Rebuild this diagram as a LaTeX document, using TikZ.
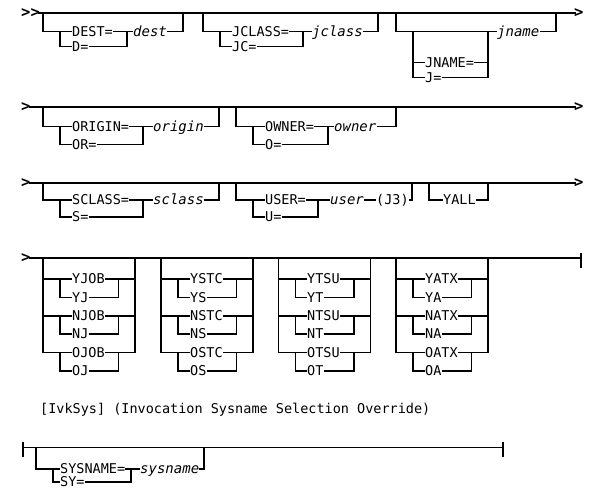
\documentclass[tikz,border=0pt]{standalone}
\usepackage{fontspec}
\usepackage{tikz}
\newfontfamily\railfont{DejaVu Sans Mono}

\begin{document}
\begin{tikzpicture}[x=1pt, y=-1pt,
    rail/.style={line width=1.3pt},
    kw/.style={font={\railfont\fontsize{13.5pt}{16pt}\selectfont}, inner sep=0pt, anchor=west, text height=9.5pt, text depth=0pt},
    var/.style={kw, font={\railfont\itshape\fontsize{14pt}{16pt}\selectfont}},
    tip/.style={kw, font={\railfont\bfseries\fontsize{15.5pt}{16pt}\selectfont}}]
    \useasboundingbox (0,0) rectangle (602,490);

    % first line: DEST, JCLASS, JNAME
    \node [tip] (start1) at (21,13) {>>};
    \node [tip] (end1) at (574,13) {>};
    \draw [rail] ([xshift=-2pt]start1.east) -- ([xshift=2pt]end1.west);
    \coordinate (dest in) at (43,13);
    \coordinate (dest l) at (60,13);
    \coordinate (dest r) at (127,13);
    \coordinate (dest out) at (183,13);
    \node [kw] (dest kw) at (72,31.5) {DEST=};
    \node [kw] (d kw) at (72,46.5) {D=};
    \node [var] (dest var) at (133,31.5) {dest};
    \draw [rail] (dest in) |- (dest kw.west) (dest l |- dest kw.west) |- (d kw.west)
        (dest kw.east) -- (dest var.west) (dest var.east) -| (dest out)
        (d kw.east) -| (dest r |- dest kw.west);
    \coordinate (jclass in) at (203,13);
    \coordinate (jclass l) at (220,13);
    \coordinate (jclass r) at (303,13);
    \coordinate (jclass out) at (378,13);
    \node [kw] (jclass kw) at (232,31.5) {JCLASS=};
    \node [kw] (jc kw) at (232,46.5) {JC=};
    \node [var] (jclass var) at (312,31.5) {jclass};
    \draw [rail] (jclass in) |- (jclass kw.west) (jclass l |- jclass kw.west) |- (jc kw.west)
        (jclass kw.east) -- (jclass var.west) (jclass var.east) -| (jclass out)
        (jc kw.east) -| (jclass r |- jclass kw.west);
    \coordinate (jname in) at (396,13);
    \coordinate (jname l) at (413,13);
    \coordinate (jname r) at (488,13);
    \coordinate (jname out) at (556,13);
    \node [kw] (jname kw) at (425,62.5) {JNAME=};
    \node [kw] (j kw) at (425,77.5) {J=};
    \node [var] (jname var) at (497,31.5) {jname};
    \draw [rail] (jname in) |- (jname var.west) (jname var.east) -| (jname out)
        (jname l |- jname var.west) |- (j kw.west) (jname l |- jname kw.west) -- (jname kw.west)
        (jname kw.east) -- (jname r |- jname kw.west) (j kw.east) -| (jname r |- jname var.west);

    % second line: ORIGIN, OWNER
    \node [tip] (start2) at (21,107) {>};
    \node [tip] (end2) at (574,107) {>};
    \draw [rail] ([xshift=-2pt]start2.east) -- ([xshift=2pt]end2.west);
    \coordinate (origin in) at (43,107);
    \coordinate (origin l) at (60,107);
    \coordinate (origin r) at (143,107);
    \coordinate (origin out) at (219,107);
    \node [kw] (origin kw) at (72,126.5) {ORIGIN=};
    \node [kw] (or kw) at (72,144.5) {OR=};
    \node [var] (origin var) at (153,126.5) {origin};
    \draw [rail] (origin in) |- (origin kw.west) (origin l |- origin kw.west) |- (or kw.west)
        (origin kw.east) -- (origin var.west) (origin var.east) -| (origin out)
        (or kw.east) -| (origin r |- origin kw.west);
    \coordinate (owner in) at (236,107);
    \coordinate (owner l) at (253,107);
    \coordinate (owner r) at (328,107);
    \coordinate (owner out) at (396,107);
    \node [kw] (owner kw) at (265,126.5) {OWNER=};
    \node [kw] (o kw) at (265,144.5) {O=};
    \node [var] (owner var) at (334,126.5) {owner};
    \draw [rail] (owner in) |- (owner kw.west) (owner l |- owner kw.west) |- (o kw.west)
        (owner kw.east) -- (owner var.west) (owner var.east) -| (owner out)
        (o kw.east) -| (owner r |- owner kw.west);

    % third line: SCLASS, USER, YALL
    \node [tip] (start3) at (21,183) {>};
    \node [tip] (end3) at (574,183) {>};
    \draw [rail] ([xshift=-2pt]start3.east) -- ([xshift=2pt]end3.west);
    \coordinate (sclass in) at (43,183);
    \coordinate (sclass l) at (60,183);
    \coordinate (sclass r) at (143,183);
    \coordinate (sclass out) at (219,183);
    \node [kw] (sclass kw) at (72,200) {SCLASS=};
    \node [kw] (s kw) at (72,217) {S=};
    \node [var] (sclass var) at (153,200) {sclass};
    \draw [rail] (sclass in) |- (sclass kw.west) (sclass l |- sclass kw.west) |- (s kw.west)
        (sclass kw.east) -- (sclass var.west) (sclass var.east) -| (sclass out)
        (s kw.east) -| (sclass r |- sclass kw.west);
    \coordinate (user in) at (236,183);
    \coordinate (user l) at (253,183);
    \coordinate (user r) at (318,183);
    \coordinate (user out) at (412,183);
    \node [kw] (user kw) at (265,200) {USER=};
    \node [kw] (u kw) at (265,217) {U=};
    \node [var] (user var) at (330,200) {user};
    \node [kw] (j3) at (376,200) {(J3)};
    \draw [rail] (user in) |- (user kw.west) (user l |- user kw.west) |- (u kw.west)
        (user kw.east) -- (user var.west) (user var.east) -- (j3.west) (j3.east) -| (user out)
        (u kw.east) -| (user r |- user kw.west);
    \coordinate (yall in) at (429,183);
    \coordinate (yall out) at (488,183);
    \node [kw] (yall kw) at (443,200) {YALL};
    \draw [rail] (yall in) |- (yall kw.west) (yall kw.east) -| (yall out);

    % fourth line: JOB, STC, TSU, ATX
    \node [tip] (start4) at (21,258) {>};
    \coordinate (bar4) at (581,258);
    \coordinate (bar4 top) at (581,253);
    \coordinate (bar4 bot) at (581,268);
    \draw [rail] ([xshift=-2pt]start4.east) -- (bar4);
    \draw [rail] (bar4 top) -- (bar4 bot);

    \coordinate (job in) at (43,258);
    \coordinate (job l) at (60,258);
    \coordinate (job r) at (118.5,258);
    \coordinate (job out) at (135,258);
    \node [kw] (yjob) at (72,279) {YJOB};
    \node [kw] (yj) at (72,297.5) {YJ};
    \node [kw] (njob) at (72,316) {NJOB};
    \node [kw] (nj) at (72,334) {NJ};
    \node [kw] (ojob) at (72,352.5) {OJOB};
    \node [kw] (oj) at (72,371) {OJ};
    \draw [rail] (job in) |- (ojob.west) (job in |- yjob.west) -- (yjob.west) (job in |- njob.west) -- (njob.west)
        (job out) |- (ojob.east) (yjob.east) -- (job out |- yjob.west) (njob.east) -- (job out |- njob.west);
    \draw [rail] (job l |- yjob.west) |- (yj.west) (job l |- njob.west) |- (nj.west) (job l |- ojob.west) |- (oj.west)
        (yj.east) -| (job r |- yjob.west) (nj.east) -| (job r |- njob.west) (oj.east) -| (job r |- ojob.west);

    \coordinate (stc in) at (161,258);
    \coordinate (stc l) at (178,258);
    \coordinate (stc r) at (236.5,258);
    \coordinate (stc out) at (253,258);
    \node [kw] (ystc) at (190,279) {YSTC};
    \node [kw] (ys) at (190,297.5) {YS};
    \node [kw] (nstc) at (190,316) {NSTC};
    \node [kw] (ns) at (190,334) {NS};
    \node [kw] (ostc) at (190,352.5) {OSTC};
    \node [kw] (os) at (190,371) {OS};
    \draw [rail] (stc in) |- (ostc.west) (stc in |- ystc.west) -- (ystc.west) (stc in |- nstc.west) -- (nstc.west)
        (stc out) |- (ostc.east) (ystc.east) -- (stc out |- ystc.west) (nstc.east) -- (stc out |- nstc.west);
    \draw [rail] (stc l |- ystc.west) |- (ys.west) (stc l |- nstc.west) |- (ns.west) (stc l |- ostc.west) |- (os.west)
        (ys.east) -| (stc r |- ystc.west) (ns.east) -| (stc r |- nstc.west) (os.east) -| (stc r |- ostc.west);

    \coordinate (tsu in) at (278.5,258);
    \coordinate (tsu l) at (295.5,258);
    \coordinate (tsu r) at (354,258);
    \coordinate (tsu out) at (370.5,258);
    \node [kw] (ytsu) at (307,279) {YTSU};
    \node [kw] (yt) at (307,297.5) {YT};
    \node [kw] (ntsu) at (307,316) {NTSU};
    \node [kw] (nt) at (307,334) {NT};
    \node [kw] (otsu) at (307,352.5) {OTSU};
    \node [kw] (ot) at (307,371) {OT};
    \draw [rail] (tsu in) |- (otsu.west) (tsu in |- ytsu.west) -- (ytsu.west) (tsu in |- ntsu.west) -- (ntsu.west)
        (tsu out) |- (otsu.east) (ytsu.east) -- (tsu out |- ytsu.west) (ntsu.east) -- (tsu out |- ntsu.west);
    \draw [rail] (tsu l |- ytsu.west) |- (yt.west) (tsu l |- ntsu.west) |- (nt.west) (tsu l |- otsu.west) |- (ot.west)
        (yt.east) -| (tsu r |- ytsu.west) (nt.east) -| (tsu r |- ntsu.west) (ot.east) -| (tsu r |- otsu.west);

    \coordinate (atx in) at (396,258);
    \coordinate (atx l) at (413,258);
    \coordinate (atx r) at (471.5,258);
    \coordinate (atx out) at (488,258);
    \node [kw] (yatx) at (425,279) {YATX};
    \node [kw] (ya) at (425,297.5) {YA};
    \node [kw] (natx) at (425,316) {NATX};
    \node [kw] (na) at (425,334) {NA};
    \node [kw] (oatx) at (425,352.5) {OATX};
    \node [kw] (oa) at (425,371) {OA};
    \draw [rail] (atx in) |- (oatx.west) (atx in |- yatx.west) -- (yatx.west) (atx in |- natx.west) -- (natx.west)
        (atx out) |- (oatx.east) (yatx.east) -- (atx out |- yatx.west) (natx.east) -- (atx out |- natx.west);
    \draw [rail] (atx l |- yatx.west) |- (ya.west) (atx l |- natx.west) |- (na.west) (atx l |- oatx.west) |- (oa.west)
        (ya.east) -| (atx r |- yatx.west) (na.east) -| (atx r |- natx.west) (oa.east) -| (atx r |- oatx.west);

    % IvkSys fragment
    \node [kw] (ivksys) at (40,409) {[IvkSys] (Invocation Sysname Selection Override)};
    \coordinate (bar5 l) at (23,447.5);
    \coordinate (bar5 r) at (503,447.5);
    \coordinate (bar5 lt) at (23,441.5);
    \coordinate (bar5 lb) at (23,456.5);
    \coordinate (bar5 rt) at (503,441.5);
    \coordinate (bar5 rb) at (503,456.5);
    \draw [rail] (bar5 l) -- (bar5 r) (bar5 lt) -- (bar5 lb) (bar5 rt) -- (bar5 rb);
    \coordinate (sysname in) at (36,447.5);
    \coordinate (sysname l) at (53,447.5);
    \coordinate (sysname r) at (131,447.5);
    \coordinate (sysname out) at (204,447.5);
    \node [kw] (sysname kw) at (60,469) {SYSNAME=};
    \node [kw] (sy kw) at (60,482) {SY=};
    \node [var] (sysname var) at (140,469) {sysname};
    \draw [rail] (sysname in) |- (sysname kw.west) (sysname l |- sysname kw.west) |- (sy kw.west)
        (sysname kw.east) -- (sysname var.west) (sysname var.east) -| (sysname out)
        (sy kw.east) -| (sysname r |- sysname kw.west);
\end{tikzpicture}
\end{document}
